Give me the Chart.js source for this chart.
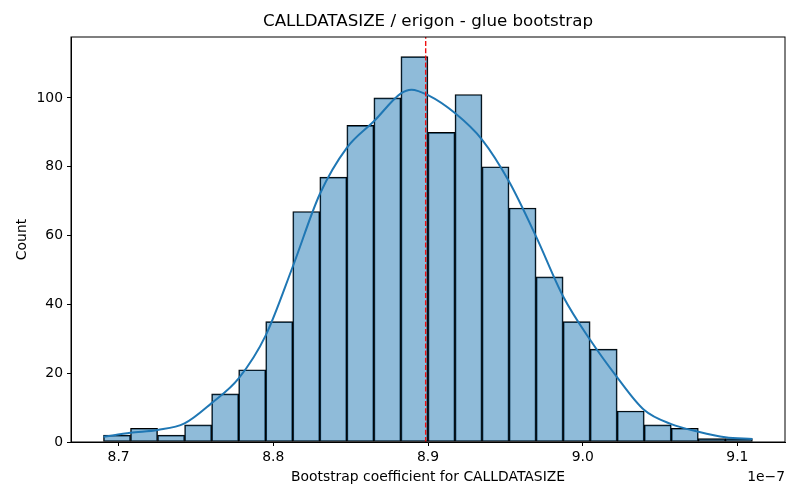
<!DOCTYPE html>
<html>
<head>
<meta charset="utf-8">
<script src="https://cdn.jsdelivr.net/npm/chart.js@4"></script>
<style>
  html, body { margin: 0; padding: 0; background: #fff; }
  #wrap { width: 800px; height: 500px; }
</style>
</head>
<body>
<div id="wrap"><canvas id="myChart" width="800" height="500"></canvas></div>
<script>
// histogram bins (x in units of 1e-7)
var binStart = 8.6902;
var binWidth = 0.01748;
var counts = [2, 4, 2, 5, 14, 21, 35, 67, 77, 92, 100, 112, 90, 101, 80, 68, 48, 35, 27, 9, 5, 4, 1, 1];

// kde curve
var kdeX = [8.6902, 8.7077, 8.7252, 8.7426, 8.7601, 8.7776, 8.7951, 8.8126, 8.8300, 8.8475, 8.8650,
            8.8825, 8.8893, 8.9000, 8.9174, 8.9349, 8.9524, 8.9699, 8.9874, 9.0048, 9.0223,
            9.0398, 9.0573, 9.0748, 9.0922, 9.1097];
var kdeY = [1.5, 2.7, 3.5, 5.4, 11.3, 18.5, 31, 51, 72, 85.5, 93.2,
            101.3, 102.4, 100.8, 95.6, 87.9, 75.7, 59.7, 42.3, 29.7, 18.8,
            9.3, 5.2, 3.0, 1.4, 0.9];

var meanLine = 8.8985;

var xTicks = [8.7, 8.8, 8.9, 9.0, 9.1];
var yTicks = [0, 20, 40, 60, 80, 100];
var xRange = [8.6692, 9.1308];
var yRange = [0, 117.7];

var title = 'CALLDATASIZE / erigon - glue bootstrap';
var xLabel = 'Bootstrap coefficient for CALLDATASIZE';
var yLabel = 'Count';
var offsetText = '1e\u22127';

var bars = counts.map(function(c, i) {
    return { x: binStart + binWidth * (i + 0.5), y: c };
});
var kde = kdeX.map(function(x, i) { return { x: x, y: kdeY[i] }; });

var FONT = '"DejaVu Sans", sans-serif';

// frame, title and axis labels like matplotlib
var decor = {
    id: 'decor',
    afterDraw: function(chart) {
        var c = chart.ctx, a = chart.chartArea;
        c.save();
        c.strokeStyle = '#000';
        c.lineWidth = 1;
        c.strokeRect(a.left, a.top, a.right - a.left, a.bottom - a.top);
        c.fillStyle = '#000';
        c.textAlign = 'center';
        c.textBaseline = 'middle';
        c.font = '16.7px ' + FONT;
        c.fillText(title, (a.left + a.right) / 2, 22);
        c.font = '13.9px ' + FONT;
        c.fillText(xLabel, (a.left + a.right) / 2, 477);
        c.textAlign = 'right';
        c.fillText(offsetText, a.right, 477);
        c.translate(22, (a.top + a.bottom) / 2);
        c.rotate(-Math.PI / 2);
        c.textAlign = 'center';
        c.fillText(yLabel, 0, 0);
        c.restore();
    }
};

var ctx = document.getElementById('myChart').getContext('2d');
var chart = new Chart(ctx, {
    type: 'bar',
    data: {
        datasets: [
            {
                type: 'bar',
                data: bars,
                backgroundColor: 'rgba(31, 119, 180, 0.5)',
                borderColor: '#000',
                borderWidth: 1,
                borderSkipped: false,
                barPercentage: 1,
                categoryPercentage: 1,
                order: 3
            },
            {
                type: 'line',
                data: kde,
                borderColor: '#1f77b4',
                borderWidth: 2,
                pointRadius: 0,
                cubicInterpolationMode: 'monotone',
                fill: false,
                order: 2
            },
            {
                type: 'line',
                data: [{ x: meanLine, y: yRange[0] }, { x: meanLine, y: yRange[1] }],
                borderColor: '#ee1111',
                borderWidth: 1.4,
                borderDash: [5, 2.2],
                pointRadius: 0,
                fill: false,
                order: 1
            }
        ]
    },
    options: {
        responsive: false,
        animation: false,
        layout: { padding: { top: 37, left: 0, right: 15, bottom: 0 } },
        plugins: {
            legend: { display: false },
            tooltip: { enabled: false },
            title: { display: false }
        },
        scales: {
            x: {
                type: 'linear',
                min: xRange[0],
                max: xRange[1],
                offset: false,
                afterBuildTicks: function(s) { s.ticks = xTicks.map(function(v) { return { value: v }; }); },
                afterFit: function(s) { s.height = 58; },
                grid: { offset: false, drawOnChartArea: false, drawTicks: true, tickLength: 4, color: '#000' },
                border: { color: '#000' },
                ticks: {
                    color: '#000',
                    font: { family: FONT, size: 13.9 },
                    padding: 3,
                    maxRotation: 0,
                    callback: function(v) { return v.toFixed(1); }
                }
            },
            y: {
                min: yRange[0],
                max: yRange[1],
                afterBuildTicks: function(s) { s.ticks = yTicks.map(function(v) { return { value: v }; }); },
                afterFit: function(s) { s.width = 71; },
                grid: { drawOnChartArea: false, drawTicks: true, tickLength: 4, color: '#000' },
                border: { color: '#000' },
                ticks: {
                    color: '#000',
                    font: { family: FONT, size: 13.9 },
                    padding: 4
                }
            }
        }
    },
    plugins: [decor]
});
</script>
</body>
</html>
